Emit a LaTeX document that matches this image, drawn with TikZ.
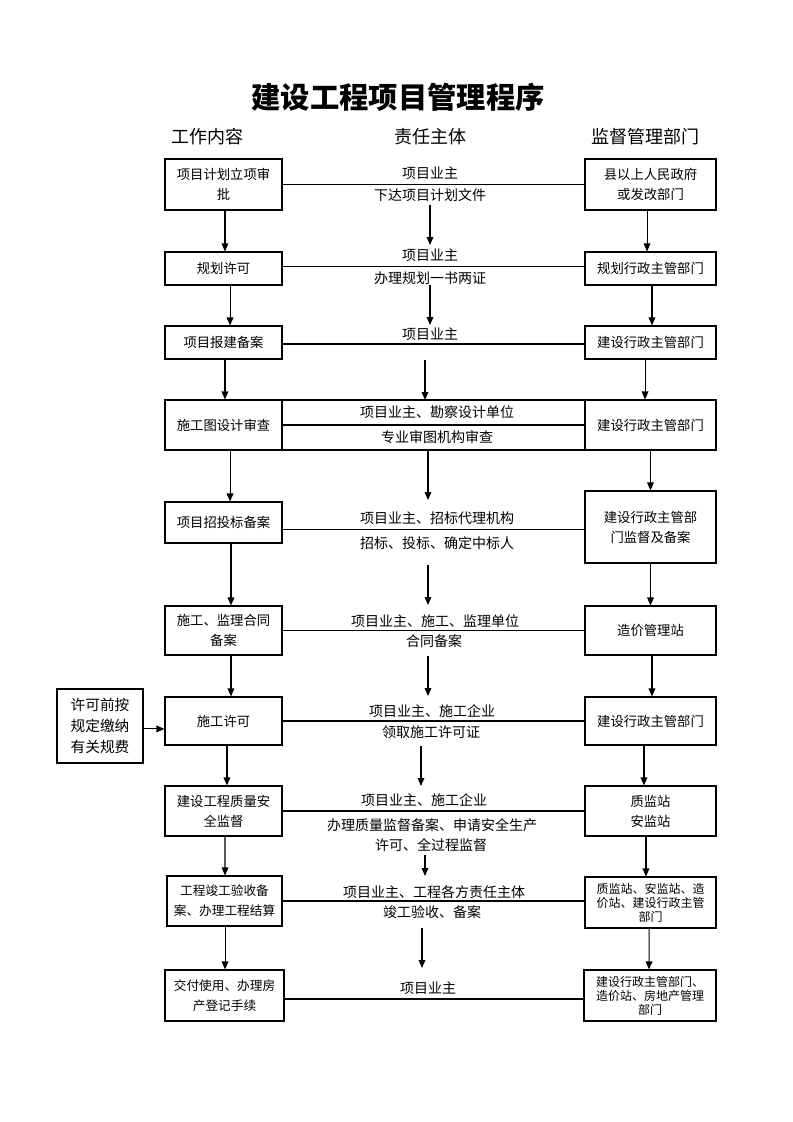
\documentclass[tikz,border=0pt]{standalone}
\usepackage{fontspec}
\setmainfont{Noto Sans CJK SC}
\usetikzlibrary{arrows.meta}
\begin{document}
\begin{tikzpicture}[x=0.75pt,y=-0.75pt,
  box/.style={draw,line width=0.8pt,align=center,inner sep=1pt,
    font=\fontsize{10}{15}\selectfont},
  lbox/.style={box,minimum width={117*0.75pt}},
  rbox/.style={box,minimum width={131*0.75pt}},
  small/.style={font=\fontsize{9}{10.5}\selectfont},
  mtext/.style={inner sep=1pt,font=\fontsize{10.5}{12}\selectfont},
  hdr/.style={inner sep=1pt,font=\fontsize{13.5}{16}\selectfont},
  conn/.style={line width=0.8pt},
  arr/.style={line width=0.8pt,-{Triangle[length=6pt,width=5pt]}}]
\path[use as bounding box,fill=white] (0,0) rectangle (793,1122);

% title and headers
\node[inner sep=1pt,font=\fontsize{22}{26}\selectfont\bfseries] (title) at (398,97) {建设工程项目管理程序};
\node[hdr] (h1) at (207,137) {工作内容};
\node[hdr] (h2) at (430,137) {责任主体};
\node[hdr] (h3) at (645,137) {监督管理部门};

% row 1
\node[lbox,minimum height={51*0.75pt}] (L1) at (223.5,184.5) {项目计划立项审\\批};
\node[rbox,minimum height={51*0.75pt}] (R1) at (650.5,184.5) {县以上人民政府\\或发改部门};
\node[mtext] (T1a) at (430,173) {项目业主};
\node[mtext] (T1b) at (430,195) {下达项目计划文件};
\draw[conn] (L1.east) -- (L1.east -| R1.west);

% row 2
\node[lbox,minimum height={33*0.75pt}] (L2) at (223.5,268.5) {规划许可};
\node[rbox,minimum height={33*0.75pt}] (R2) at (650.5,268.5) {规划行政主管部门};
\node[mtext] (T2a) at (430,255) {项目业主};
\node[mtext] (T2b) at (430,278) {办理规划一书两证};
\draw[conn] ([yshift=1.8pt]L2.east) -- ([yshift=1.8pt]R2.west);

% row 3
\node[lbox,minimum height={33*0.75pt}] (L3) at (223.5,342.5) {项目报建备案};
\node[rbox,minimum height={33*0.75pt}] (R3) at (650.5,342.5) {建设行政主管部门};
\node[mtext] (T3) at (430,334) {项目业主};
\draw[conn] ([yshift=-1.1pt]L3.east) -- ([yshift=-1.1pt]R3.west);

% row 4
\node[lbox,minimum height={50*0.75pt}] (L4) at (223.5,425) {施工图设计审查};
\node[draw,line width=0.8pt,minimum width={303*0.75pt},minimum height={50*0.75pt},inner sep=0pt] (M4) at (433.5,425) {};
\node[rbox,minimum height={50*0.75pt}] (R4) at (650.5,425) {建设行政主管部门};
\node[mtext] (T4a) at (437,412) {项目业主、勘察设计单位};
\node[mtext] (T4b) at (437,437) {专业审图机构审查};
\draw[conn] (M4.west) -- (M4.east);

% row 5
\node[lbox,minimum height={41*0.75pt}] (L5) at (223.5,522.5) {项目招投标备案};
\node[rbox,minimum height={72*0.75pt}] (R5) at (650.5,527) {建设行政主管部\\门监督及备案};
\node[mtext] (T5a) at (437,518) {项目业主、招标代理机构};
\node[mtext] (T5b) at (437,543) {招标、投标、确定中标人};
\draw[conn] ([yshift=-4.9pt]L5.east) -- ([yshift=-4.9pt]L5.east -| R5.west);

% row 6
\node[lbox,minimum height={49*0.75pt}] (L6) at (223.5,630.5) {施工、监理合同\\备案};
\node[rbox,minimum height={49*0.75pt}] (R6) at (650.5,630.5) {造价管理站};
\node[mtext] (T6a) at (435,621) {项目业主、施工、监理单位};
\node[mtext] (T6b) at (434,641) {合同备案};
\draw[conn] (L6.east) -- (R6.west);

% row 7
\node[box,minimum width={86*0.75pt},minimum height={74*0.75pt},font=\fontsize{11}{16}\selectfont] (S7) at (100,726) {许可前按\\规定缴纳\\有关规费};
\node[lbox,minimum height={48*0.75pt}] (L7) at (223.5,721) {施工许可};
\node[rbox,minimum height={48*0.75pt}] (R7) at (650.5,721) {建设行政主管部门};
\node[mtext] (T7a) at (432,711) {项目业主、施工企业};
\node[mtext] (T7b) at (431,732) {领取施工许可证};
\draw[conn] (L7.east) -- (R7.west);
\draw[arr] ([yshift=-2.2pt]S7.east) -- ([yshift=-2.2pt]S7.east -| L7.west);

% row 8
\node[lbox,minimum height={50*0.75pt}] (L8) at (223.5,811) {建设工程质量安\\全监督};
\node[rbox,minimum height={50*0.75pt}] (R8) at (650.5,811) {质监站\\安监站};
\node[mtext] (T8a) at (424,800) {项目业主、施工企业};
\node[mtext] (T8b) at (432,825) {办理质量监督备案、申请安全生产};
\node[mtext] (T8c) at (431,845) {许可、全过程监督};
\draw[conn] (L8.east) -- (R8.west);

% row 9
\node[box,small,minimum width={115*0.75pt},minimum height={50*0.75pt},font=\fontsize{9.5}{15}\selectfont] (L9) at (224.5,901) {工程竣工验收备\\案、办理工程结算};
\node[rbox,small,minimum height={51*0.75pt}] (R9) at (650.5,902.5) {质监站、安监站、造\\价站、建设行政主管\\部门};
\node[mtext] (T9a) at (434,892) {项目业主、工程各方责任主体};
\node[mtext] (T9b) at (432,912) {竣工验收、备案};
\draw[conn] (L9.east) -- (L9.east -| R9.west);

% row 10
\node[box,minimum width={119*0.75pt},minimum height={51*0.75pt},font=\fontsize{9.5}{15}\selectfont] (L10) at (224.5,995.5) {交付使用、办理房\\产登记手续};
\node[box,small,minimum width={132*0.75pt},minimum height={51*0.75pt}] (R10) at (650,995.5) {建设行政主管部门、\\造价站、房地产管理\\部门};
\node[mtext] (T10) at (428,988) {项目业主};
\draw[conn] ([yshift=-2.6pt]L10.east) -- ([yshift=-2.6pt]R10.west);

% left column arrows
\draw[arr] ([xshift=1.1pt]L1.south) -- ([xshift=1.1pt]L2.north);
\draw[arr] ([xshift=4.9pt]L2.south) -- ([xshift=4.9pt]L3.north);
\draw[arr] ([xshift=1.1pt]L3.south) -- ([xshift=1.1pt]L4.north);
\draw[arr] ([xshift=4.9pt]L4.south) -- ([xshift=4.9pt]L5.north);
\draw[arr] ([xshift=5.6pt]L5.south) -- ([xshift=5.6pt]L6.north);
\draw[arr] ([xshift=5.6pt]L6.south) -- ([xshift=5.6pt]L7.north);
\draw[arr] ([xshift=2.6pt]L7.south) -- ([xshift=2.6pt]L8.north);
\draw[arr] ([xshift=1.1pt]L8.south) -- ([xshift=0.4pt]L9.north);
\draw[arr] ([xshift=0.4pt]L9.south) -- ([xshift=0.4pt]L10.north);

% right column arrows
\draw[arr] ([xshift=-2.6pt]R1.south) -- ([xshift=-2.6pt]R2.north);
\draw[arr] ([xshift=1.1pt]R2.south) -- ([xshift=1.1pt]R3.north);
\draw[arr] ([xshift=-4.1pt]R3.south) -- ([xshift=-4.1pt]R4.north);
\draw[arr] (R4.south) -- (R5.north);
\draw[arr] (R5.south) -- (R6.north);
\draw[arr] ([xshift=1.1pt]R6.south) -- ([xshift=1.1pt]R7.north);
\draw[arr] ([xshift=-4.9pt]R7.south) -- ([xshift=-4.9pt]R8.north);
\draw[arr] ([xshift=-3.4pt]R8.south) -- ([xshift=-3.4pt]R9.north);
\draw[arr] ([xshift=-1.1pt]R9.south) -- ([xshift=-0.7pt]R10.north);

% middle column arrows
\coordinate (m1s) at (430,205); \coordinate (m1e) at (430,245);
\coordinate (m2s) at (430,285); \coordinate (m2e) at (430,325);
\coordinate (m3s) at (425,360); \coordinate (m3e) at (425,400);
\coordinate (m4s) at (428,450); \coordinate (m4e) at (428,500);
\coordinate (m5s) at (428,565); \coordinate (m5e) at (428,605);
\coordinate (m6s) at (428,656); \coordinate (m6e) at (428,696);
\coordinate (m7s) at (421,746); \coordinate (m7e) at (421,786);
\coordinate (m8s) at (425,855); \coordinate (m8e) at (425,876);
\coordinate (m9s) at (422,928); \coordinate (m9e) at (422,968);
\foreach \i in {1,...,9} \draw[arr] (m\i s) -- (m\i e);
\end{tikzpicture}
\end{document}
